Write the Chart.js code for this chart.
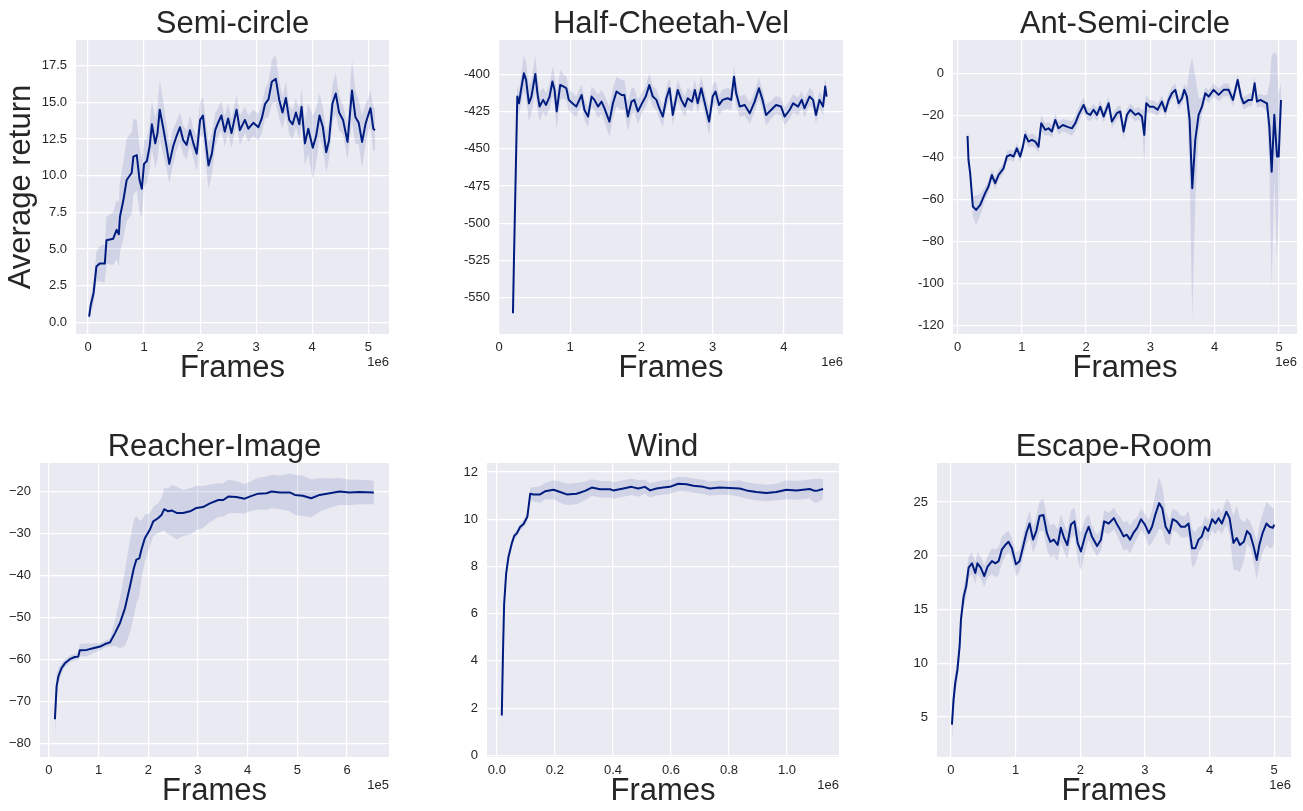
<!DOCTYPE html>
<html>
<head>
<meta charset="utf-8">
<script src="https://cdn.jsdelivr.net/npm/chart.js@4.4.0/dist/chart.umd.min.js"></script>
<style>
  body { margin: 0; background: #fff; width: 1303px; height: 811px; overflow: hidden; position: relative; }
  canvas { position: absolute; }
</style>
</head>
<body>
<script>
// Semi-circle (frames in 1e6)
const semiFrames = [0.02,0.05,0.10,0.15,0.21,0.30,0.33,0.45,0.51,0.55,0.57,0.63,0.69,0.78,0.81,0.87,0.92,0.96,1.00,1.05,1.10,1.14,1.20,1.24,1.28,1.34,1.40,1.45,1.52,1.58,1.64,1.70,1.76,1.82,1.88,1.94,2.00,2.05,2.09,2.15,2.21,2.27,2.32,2.38,2.44,2.50,2.56,2.65,2.71,2.80,2.86,2.95,3.04,3.10,3.16,3.22,3.28,3.35,3.41,3.47,3.53,3.59,3.65,3.71,3.77,3.81,3.87,3.93,4.01,4.07,4.13,4.19,4.25,4.30,4.36,4.42,4.48,4.55,4.63,4.68,4.71,4.77,4.83,4.89,4.95,4.98,5.04,5.09,5.12];
const semiReturn = [0.39,1.2,2.0,3.8,4.0,4.0,5.6,5.7,6.3,6.0,7.2,8.3,9.7,10.2,11.3,11.4,9.7,9.1,10.8,11.0,12.0,13.5,12.2,12.9,14.5,13.3,12.0,10.8,12.0,12.7,13.3,12.4,12.1,13.1,12.2,11.5,13.8,14.1,12.7,10.7,11.5,13.1,13.6,14.1,13.0,13.9,12.9,14.5,13.1,13.8,13.2,13.6,13.3,13.9,14.9,15.2,16.4,16.6,15.2,14.3,15.3,13.8,13.5,14.3,13.5,14.7,12.2,13.2,11.9,12.7,14.1,13.3,11.6,12.4,14.9,15.6,14.3,13.8,12.3,14.5,15.8,14.0,13.6,12.3,13.5,13.9,14.6,13.2,13.1];
const semiSpread = [0.3,0.5,0.8,1.0,1.2,1.3,1.6,1.8,2.0,2.2,2.4,2.6,2.8,2.8,2.6,2.4,2.2,2.0,1.6,1.5,1.5,1.6,1.7,1.8,2.0,1.8,1.5,1.3,1.2,1.0,1.0,1.0,1.0,1.0,1.0,1.2,1.2,1.3,1.5,1.6,1.4,1.2,1.0,1.0,1.0,1.0,1.0,1.0,1.0,0.9,0.9,0.9,0.9,1.0,1.0,1.2,1.5,1.6,1.3,1.1,1.1,1.0,1.0,1.0,1.0,1.2,1.5,1.7,2.2,1.8,1.5,1.4,1.4,1.2,1.3,1.4,1.2,1.0,1.2,1.8,2.1,1.8,1.5,1.8,1.4,1.2,1.2,1.5,1.4];

// Half-Cheetah-Vel (frames in 1e6)
const cheetahFrames = [0.196,0.21,0.234,0.257,0.28,0.313,0.35,0.38,0.42,0.455,0.51,0.54,0.57,0.62,0.66,0.71,0.75,0.78,0.81,0.86,0.91,0.945,0.98,1.03,1.085,1.16,1.20,1.25,1.30,1.34,1.39,1.44,1.48,1.55,1.60,1.65,1.72,1.76,1.81,1.86,1.90,1.95,2.02,2.06,2.11,2.16,2.21,2.25,2.30,2.35,2.395,2.44,2.51,2.56,2.61,2.65,2.71,2.75,2.79,2.84,2.89,2.95,3.0,3.04,3.09,3.14,3.21,3.26,3.30,3.33,3.38,3.45,3.52,3.59,3.65,3.70,3.75,3.82,3.89,3.96,4.01,4.08,4.13,4.20,4.25,4.29,4.36,4.41,4.45,4.50,4.55,4.58,4.60];
const cheetahReturn = [-560.5,-524.7,-468.7,-415,-419.5,-409.4,-399.3,-403.8,-419.5,-415,-399.8,-412.8,-421.7,-417.2,-420.6,-415,-404.9,-410.5,-425,-407.2,-408.3,-409.4,-417.2,-419.5,-421.7,-413.9,-424,-428.4,-415,-417.2,-421.7,-418.4,-422.8,-431.8,-419.5,-411.6,-413.9,-413.9,-428.4,-418.4,-417.2,-425,-418.4,-415,-407.2,-415,-417.2,-422.8,-428.4,-416.1,-409.4,-427.3,-410.5,-417.2,-421.7,-416.1,-418.4,-410.5,-419.5,-409.4,-419.5,-431.8,-415,-411.6,-420.6,-417.2,-416.1,-417.2,-401.6,-412.8,-421.7,-420.6,-426.2,-418.4,-409.4,-417.2,-427.3,-424,-420.6,-421.7,-428.4,-424,-419.5,-421.7,-417.2,-422.8,-415,-417.2,-427.3,-417.2,-421.7,-408.3,-415];
const cheetahSpread = [2,3,5,8,8,10,12,12,12,11,12,11,10,8,8,8,10,10,12,10,8,8,7,7,7,7,7,7,7,7,8,8,9,10,10,10,10,10,10,9,8,8,7,7,8,7,7,7,7,7,7,7,7,7,7,7,7,7,7,8,8,9,8,7,7,7,7,7,8,8,7,7,7,7,7,7,7,6,6,6,6,6,6,6,6,6,6,6,6,6,6,6,6];

// Ant-Semi-circle (frames in 1e6)
const antFrames = [0.156,0.171,0.197,0.239,0.29,0.353,0.43,0.482,0.534,0.586,0.638,0.716,0.768,0.82,0.871,0.923,0.975,1.017,1.053,1.105,1.157,1.209,1.26,1.302,1.364,1.416,1.468,1.52,1.572,1.639,1.701,1.779,1.831,1.883,1.961,2.012,2.064,2.116,2.168,2.22,2.272,2.35,2.401,2.479,2.531,2.583,2.635,2.687,2.765,2.816,2.868,2.905,2.936,2.988,3.05,3.112,3.179,3.231,3.283,3.335,3.387,3.439,3.491,3.527,3.568,3.61,3.651,3.698,3.75,3.802,3.854,3.906,3.983,4.061,4.139,4.217,4.284,4.357,4.409,4.45,4.528,4.58,4.621,4.658,4.71,4.761,4.813,4.85,4.886,4.927,4.969,4.995,5.031];
const antReturn = [-29.8,-41.2,-47.6,-63.4,-65,-62.6,-57,-53.9,-48.4,-52.3,-48.4,-45.2,-39.6,-38.8,-39.6,-35.7,-39.6,-34.9,-29.3,-32.5,-31.7,-32.5,-34.9,-23.8,-26.9,-26.2,-27.7,-22.2,-26.2,-24.6,-25.4,-26.2,-23.8,-19.8,-15.1,-19,-19.8,-17.4,-19.8,-15.9,-20.6,-14.3,-23,-19,-18.2,-27.7,-19.8,-17.4,-19.8,-19,-20.6,-29.3,-14.3,-15.9,-15.9,-17.4,-13.5,-18.2,-12.7,-9.5,-7.9,-14.3,-11.9,-7.9,-11.1,-22.2,-54.7,-31.7,-19.8,-15.9,-9.5,-11.1,-7.9,-10.3,-7.9,-7.9,-12.7,-3.2,-11.1,-14.3,-12.7,-12.7,-4.8,-13.5,-12.7,-13.5,-14.3,-25.4,-46.8,-19.8,-39.6,-39.6,-12.7];
const antSpread = [1,2,3,5,7,5,3,3,3,3,2.5,2.5,2.5,2.5,2.5,2.5,3,3,3,3,3,3,3,4,3,3,3,3,3,3,3,3.5,3.5,3.5,3.5,3,3,3,3,3,3,3,3,3,3,4,3,3,3,3,3,13,4,3,3,3,3,3,3,3,3,3,3,3,4,25,62,30,8,4,3,3,3,3,3,3,3,3,3,3,3,3,3,3,3,3,4,20,55,30,48,30,8];

// Reacher-Image (frames in 1e5)
const reacherFrames = [0.12,0.154,0.19,0.255,0.32,0.42,0.52,0.59,0.62,0.76,0.89,1.03,1.13,1.23,1.33,1.43,1.53,1.63,1.71,1.76,1.82,1.86,1.93,2.03,2.10,2.20,2.27,2.32,2.40,2.47,2.57,2.70,2.84,2.97,3.10,3.24,3.41,3.51,3.61,3.77,3.94,4.04,4.21,4.38,4.48,4.65,4.85,4.95,5.11,5.28,5.45,5.65,5.85,6.05,6.25,6.54];
const reacherReturn = [-74.3,-66.5,-64.1,-62.1,-61,-60,-59.5,-59.4,-57.9,-57.8,-57.4,-57,-56.4,-56,-53.8,-51.4,-47.9,-42.7,-38.3,-36.3,-36,-34,-31.2,-29.2,-27.2,-26.4,-25.6,-24.3,-24.8,-24.6,-25.2,-25.2,-24.8,-24.0,-23.8,-22.9,-22.1,-22.1,-21.3,-21.4,-21.8,-21.3,-20.6,-20.5,-20.1,-20.3,-20.3,-20.9,-21.1,-21.7,-20.9,-20.5,-20.1,-20.3,-20.2,-20.3];
const reacherSpread = [5,3,2,1.2,1,0.8,0.8,0.8,1.5,1.5,1.2,0.8,0.8,1,3,6,9,11,11.5,10.5,9,7,5.5,4,3.5,3.5,4,5,5.5,6,6.3,5.5,5.5,5.3,5,4.5,4,4,4,3.8,3.5,3.5,3.8,4,4,4,4.5,4.8,4.8,4.5,4,3.5,3.2,3,2.9,2.8];

// Wind (frames in 1e6)
const windFrames = [0.017,0.021,0.025,0.032,0.04,0.052,0.06,0.069,0.08,0.092,0.105,0.115,0.126,0.149,0.166,0.195,0.218,0.241,0.275,0.304,0.327,0.356,0.39,0.401,0.436,0.464,0.487,0.51,0.528,0.55,0.573,0.596,0.625,0.654,0.677,0.711,0.734,0.768,0.803,0.837,0.86,0.894,0.929,0.963,0.998,1.032,1.078,1.095,1.107,1.124];
const windReturn = [1.69,4.3,6.4,7.7,8.4,9.0,9.3,9.4,9.67,9.8,10.1,11.08,11.05,11.05,11.18,11.25,11.15,11.05,11.08,11.2,11.34,11.27,11.27,11.22,11.3,11.37,11.3,11.37,11.22,11.3,11.34,11.37,11.5,11.48,11.42,11.37,11.3,11.34,11.32,11.3,11.22,11.15,11.11,11.15,11.25,11.22,11.28,11.2,11.22,11.28];
const windSpread = [1.2,0.8,0.5,0.3,0.2,0.15,0.15,0.15,0.15,0.15,0.2,0.25,0.3,0.35,0.35,0.4,0.45,0.45,0.45,0.4,0.35,0.35,0.35,0.35,0.35,0.35,0.35,0.3,0.3,0.3,0.3,0.3,0.3,0.3,0.3,0.3,0.3,0.3,0.3,0.35,0.35,0.35,0.35,0.35,0.4,0.4,0.4,0.5,0.5,0.4];

// Escape-Room (frames in 1e6)
const escapeFrames = [0.015,0.04,0.067,0.10,0.134,0.155,0.196,0.237,0.273,0.325,0.376,0.41,0.46,0.515,0.567,0.634,0.686,0.737,0.789,0.84,0.89,0.943,1.005,1.06,1.11,1.165,1.216,1.27,1.32,1.37,1.43,1.485,1.536,1.59,1.65,1.70,1.75,1.80,1.856,1.91,1.96,2.01,2.08,2.13,2.18,2.26,2.32,2.37,2.44,2.52,2.57,2.62,2.67,2.72,2.77,2.82,2.88,2.94,3.0,3.06,3.11,3.16,3.22,3.27,3.32,3.38,3.43,3.49,3.56,3.62,3.675,3.73,3.78,3.83,3.88,3.93,3.98,4.04,4.09,4.14,4.19,4.26,4.31,4.37,4.42,4.47,4.53,4.58,4.63,4.68,4.73,4.77,4.82,4.88,4.93,4.98,5.0];
const escapeReturn = [4.29,6.6,8.2,9.4,11.6,14.1,16.2,17.2,18.9,19.3,18.4,19.3,18.9,18.1,19.0,19.5,19.3,19.5,20.6,21.0,21.3,20.7,19.2,19.5,20.7,22.1,23.0,21.5,22.3,23.7,23.8,22.1,21.3,21.5,21.0,22.6,21.65,21.0,22.9,23.2,21.2,20.4,21.96,22.7,21.8,20.9,21.5,23.2,23.0,23.5,22.9,22.4,21.8,21.96,21.5,22.1,22.6,23.4,22.9,22.1,22.7,23.8,24.9,24.4,22.7,22.1,23.4,23.2,22.7,22.7,23.0,20.7,20.7,21.5,21.8,22.7,22.3,23.4,23.0,23.5,23.0,24.1,23.5,21.2,21.65,21.0,21.3,22.3,21.96,20.9,19.6,21.0,22.1,23.0,22.7,22.6,22.9];
const escapeSpread = [1.5,1.2,1.0,1.0,1.0,1.0,1.0,1.0,1.0,1.0,1.0,1.0,1.0,1.0,1.0,1.2,1.3,1.3,1.2,1.1,1.0,1.0,1.1,1.0,1.0,1.1,1.2,1.2,1.3,1.4,1.5,1.5,1.5,1.5,1.5,1.3,1.3,1.3,1.3,1.3,1.5,1.8,1.5,1.2,1.0,1.0,1.0,1.0,1.0,1.0,1.0,1.2,1.3,1.3,1.3,1.2,1.0,1.0,1.0,1.2,1.5,2.0,2.4,2.0,1.5,1.2,1.0,1.0,1.0,1.0,1.2,1.8,1.5,1.2,1.0,1.0,1.0,1.0,1.0,1.0,1.0,1.2,1.5,2.5,3.0,2.5,1.8,1.2,1.2,1.5,1.8,1.8,1.8,2.0,2.0,1.8,1.5];

// tick values and labels
const xTicks5 = [0, 1, 2, 3, 4, 5];
const cheetahXTicks = [0, 1, 2, 3, 4];
const reacherXTicks = [0, 1, 2, 3, 4, 5, 6];
const windXTicks = [0, 0.2, 0.4, 0.6, 0.8, 1.0];
const windXLabels = ['0.0', '0.2', '0.4', '0.6', '0.8', '1.0'];
const semiYTicks = [0, 2.5, 5, 7.5, 10, 12.5, 15, 17.5];
const semiYLabels = ['0.0', '2.5', '5.0', '7.5', '10.0', '12.5', '15.0', '17.5'];
const cheetahYTicks = [-550, -525, -500, -475, -450, -425, -400];
const cheetahYLabels = ['-550', '-525', '-500', '-475', '-450', '-425', '-400'];
const antYTicks = [-120, -100, -80, -60, -40, -20, 0];
const antYLabels = ['-120', '-100', '\u221280', '\u221260', '\u221240', '\u221220', '0'];
const reacherYTicks = [-80, -70, -60, -50, -40, -30, -20];
const reacherYLabels = ['\u221280', '\u221270', '\u221260', '\u221250', '\u221240', '\u221230', '\u221220'];
const windYTicks = [0, 2, 4, 6, 8, 10, 12];
const escapeYTicks = [5, 10, 15, 20, 25];

const FONT = "'Liberation Sans', Arial, sans-serif";
const TEXT = '#262626';
const LINE = '#001c7f';
const BAND = 'rgba(0, 28, 127, 0.11)';
const BG = '#eaeaf2';

const plotBg = {
  id: 'plotBg',
  beforeDraw(chart) {
    const { ctx, chartArea: a } = chart;
    ctx.save();
    ctx.fillStyle = BG;
    ctx.fillRect(a.left, a.top, a.right - a.left, a.bottom - a.top);
    ctx.restore();
  }
};

const offsetText = {
  id: 'offsetText',
  afterDraw(chart, args, opts) {
    const { ctx, chartArea: a } = chart;
    ctx.save();
    ctx.font = '13px ' + FONT;
    ctx.fillStyle = TEXT;
    ctx.textAlign = 'right';
    ctx.textBaseline = 'middle';
    ctx.fillText(opts.text, a.right, a.bottom + 28);
    ctx.restore();
  }
};

function panel(p) {
  const [L, T, R, B] = p.box;
  const left = L - p.yW, top = T - 40;
  const c = document.createElement('canvas');
  c.width = R + 4 - left;
  c.height = B + 50 - top;
  c.style.left = left + 'px';
  c.style.top = top + 'px';
  document.body.appendChild(c);

  const mean = p.x.map((x, i) => ({ x, y: p.y[i] }));
  const hi = p.x.map((x, i) => ({ x, y: p.y[i] + p.s[i] }));
  const lo = p.x.map((x, i) => ({ x, y: p.y[i] - p.s[i] }));
  const tickFont = { family: FONT, size: 13 };
  const bigFont = { family: FONT, size: 31, weight: 'normal', lineHeight: 1 };

  new Chart(c, {
    type: 'line',
    data: {
      datasets: [
        { data: mean, borderColor: LINE, borderWidth: 2, pointRadius: 0, fill: false, borderJoinStyle: 'round' },
        { data: hi, borderColor: 'rgba(0,0,0,0)', borderWidth: 0, pointRadius: 0, backgroundColor: BAND, fill: '+1' },
        { data: lo, borderColor: 'rgba(0,0,0,0)', borderWidth: 0, pointRadius: 0, fill: false }
      ]
    },
    options: {
      responsive: false,
      animation: false,
      devicePixelRatio: 1,
      layout: { padding: { left: 0, right: 4, top: 0, bottom: 0 } },
      plugins: {
        legend: { display: false },
        tooltip: { enabled: false },
        title: {
          display: true, text: p.title, fullSize: false, color: TEXT,
          font: bigFont, padding: { top: 8.5, bottom: 0.5 }
        },
        offsetText: { text: p.offset }
      },
      scales: {
        x: {
          type: 'linear', min: p.xMin, max: p.xMax,
          afterFit: s => { s.height = 50; },
          afterBuildTicks: s => { s.ticks = p.xTicks.map(v => ({ value: v })); },
          ticks: {
            autoSkip: false, maxRotation: 0, padding: 6, color: TEXT, font: tickFont,
            callback: (v, i) => p.xLabels ? p.xLabels[i] : String(p.xTicks[i])
          },
          grid: { color: '#ffffff', lineWidth: 1.2, drawTicks: false },
          border: { display: false },
          title: { display: true, text: 'Frames', color: TEXT, font: bigFont, padding: 0 }
        },
        y: {
          type: 'linear', min: p.yMin, max: p.yMax,
          afterFit: s => { s.width = p.yW; },
          afterBuildTicks: s => { s.ticks = p.yTicks.map(v => ({ value: v })); },
          ticks: {
            autoSkip: false, padding: 9, color: TEXT, font: tickFont,
            callback: (v, i) => p.yLabels ? p.yLabels[i] : String(p.yTicks[i])
          },
          grid: { color: '#ffffff', lineWidth: 1.2, drawTicks: false },
          border: { display: false },
          title: {
            display: !!p.yTitle, text: p.yTitle || '', color: TEXT, font: bigFont,
            padding: { top: 5.5, bottom: 0 }
          }
        }
      }
    },
    plugins: [plotBg, offsetText]
  });
}

panel({ title: 'Semi-circle', x: semiFrames, y: semiReturn, s: semiSpread,
  box: [76, 40, 389, 334], yW: 76, xMin: -0.214, xMax: 5.37, yMin: -0.8, yMax: 19.25,
  xTicks: xTicks5, yTicks: semiYTicks, yLabels: semiYLabels, offset: '1e6', yTitle: 'Average return' });

panel({ title: 'Half-Cheetah-Vel', x: cheetahFrames, y: cheetahReturn, s: cheetahSpread,
  box: [499, 40, 843, 334], yW: 60, xMin: 0, xMax: 4.83, yMin: -574.4, yMax: -377,
  xTicks: cheetahXTicks, yTicks: cheetahYTicks, yLabels: cheetahYLabels, offset: '1e6' });

panel({ title: 'Ant-Semi-circle', x: antFrames, y: antReturn, s: antSpread,
  box: [953, 40, 1297, 334], yW: 60, xMin: -0.07, xMax: 5.28, yMin: -124, yMax: 15.8,
  xTicks: xTicks5, yTicks: antYTicks, yLabels: antYLabels, offset: '1e6' });

panel({ title: 'Reacher-Image', x: reacherFrames, y: reacherReturn, s: reacherSpread,
  box: [40, 463, 389, 757], yW: 40, xMin: -0.18, xMax: 6.845, yMin: -83.3, yMax: -13.3,
  xTicks: reacherXTicks, yTicks: reacherYTicks, yLabels: reacherYLabels, offset: '1e5' });

panel({ title: 'Wind', x: windFrames, y: windReturn, s: windSpread,
  box: [487, 463, 839, 757], yW: 60, xMin: -0.034, xMax: 1.179, yMin: -0.07, yMax: 12.38,
  xTicks: windXTicks, xLabels: windXLabels, yTicks: windYTicks, offset: '1e6' });

panel({ title: 'Escape-Room', x: escapeFrames, y: escapeReturn, s: escapeSpread,
  box: [937, 463, 1291, 757], yW: 60, xMin: -0.216, xMax: 5.26, yMin: 1.28, yMax: 28.63,
  xTicks: xTicks5, yTicks: escapeYTicks, offset: '1e6' });
</script>
</body>
</html>
